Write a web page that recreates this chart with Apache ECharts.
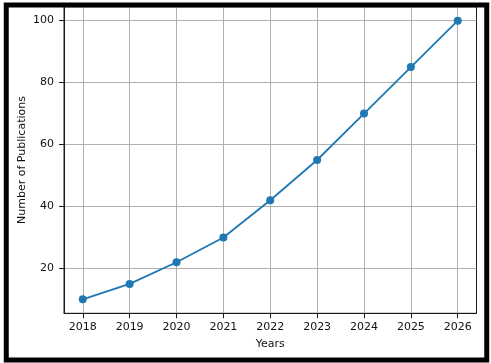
<!DOCTYPE html>
<html>
<head>
<meta charset="utf-8">
<script src="https://cdn.jsdelivr.net/npm/echarts@6/dist/echarts.min.js"></script>
<style>
html,body{margin:0;padding:0;background:#fff;}
#c{width:491px;height:363px;}
</style>
</head>
<body>
<div id="c"></div>
<script>
const years = [2018, 2019, 2020, 2021, 2022, 2023, 2024, 2025, 2026];
const publications = [10, 15, 22, 30, 42, 55, 70, 85, 100];
const yTicks = [20, 40, 60, 80, 100];
const xTicks = years;

const chart = echarts.init(document.getElementById('c'), null, {renderer: 'canvas'});
const font = 'DejaVu Sans';
chart.setOption({
  animation: false,
  backgroundColor: '#fff',
  grid: {
    left: 64, right: 14.5, top: 6.7, bottom: 49.7,
    show: true, borderColor: '#1a1a1a', borderWidth: 1, backgroundColor: 'transparent'
  },
  xAxis: {
    type: 'value',
    min: 2017.6, max: 2026.4,
    interval: 1,
    name: 'Years',
    nameLocation: 'middle',
    nameGap: 25,
    nameMoveOverlap: false,
    nameTextStyle: {fontFamily: font, fontSize: 11, color: '#111'},
    axisLine: {show: true, onZero: false, lineStyle: {color: '#1a1a1a', width: 1}},
    axisTick: {show: true, length: 5, lineStyle: {color: '#1a1a1a'}, customValues: xTicks},
    axisLabel: {fontFamily: font, fontSize: 11, color: '#111', margin: 8, customValues: xTicks,
      formatter: v => String(v)},
    splitLine: {show: true, lineStyle: {color: '#b0b0b0', width: 1}}
  },
  yAxis: {
    type: 'value',
    min: 5.5, max: 104.5,
    interval: 20,
    name: 'Number of Publications',
    nameLocation: 'middle',
    nameGap: 36,
    nameMoveOverlap: false,
    nameTextStyle: {fontFamily: font, fontSize: 11, color: '#111'},
    axisLine: {show: true, onZero: false, lineStyle: {color: '#1a1a1a', width: 1}},
    axisTick: {show: true, length: 5, lineStyle: {color: '#1a1a1a'}, customValues: yTicks},
    axisLabel: {fontFamily: font, fontSize: 11, color: '#111', margin: 10, customValues: yTicks},
    splitLine: {show: true, lineStyle: {color: '#b0b0b0', width: 1}}
  },
  series: [{
    type: 'line',
    data: years.map((y, i) => [y, publications[i]]),
    symbol: 'circle',
    symbolSize: 8,
    showSymbol: true,
    lineStyle: {color: '#1f77b4', width: 1.8},
    itemStyle: {color: '#1f77b4'},
    z: 5
  }],
  graphic: [{
    type: 'rect',
    shape: {x: 6.25, y: 5, width: 480.5, height: 355},
    style: {fill: 'none', stroke: '#000', lineWidth: 5},
    z: 100
  }]
});
</script>
</body>
</html>
